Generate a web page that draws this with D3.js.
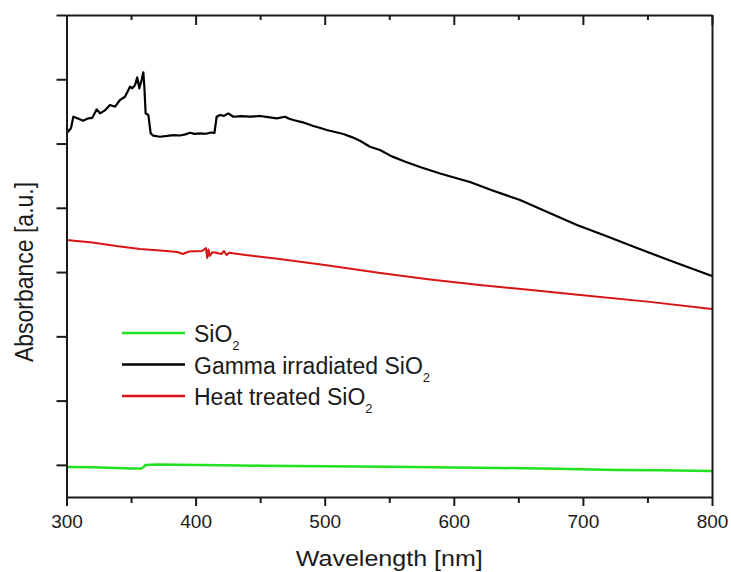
<!DOCTYPE html>
<html>
<head>
<meta charset="utf-8">
<script src="https://cdn.jsdelivr.net/npm/d3@7"></script>
<style>
  body { margin: 0; background: #fff; }
  text { font-family: "Liberation Sans", Arial, sans-serif; fill: #1a1a1a; }
</style>
</head>
<body>
<div id="chart"></div>
<script>
// wavelength [nm] / absorbance [a.u.]
var gammaNm  = [300.2, 301.4, 303.5, 305.3, 307.9, 313, 316.9, 320, 323.4, 326, 330, 333.7, 337.6, 341.4, 345.3, 349.2, 351, 353.1, 354.8, 356.4, 358.2, 359.5, 360.3, 361.3, 363.4, 365.2, 367.2, 372.4, 378, 382.7, 388, 392, 395.7, 399, 403.4, 408, 412, 414.6,
                416.3, 418.9, 422, 425.3, 429.2, 435, 442, 449.9, 456, 462.8, 469.3, 472, 475.7, 483, 491.2, 496, 501.6, 508, 514.4, 521, 527.3, 535.1, 542.8, 552, 562, 573.8, 590, 612.5, 630, 651.3, 672, 695.4, 718, 741.9, 770, 800];
var gammaAbs = [6.237, 6.184, 6.241, 6.417, 6.397, 6.355, 6.392, 6.40, 6.532, 6.47, 6.52, 6.599, 6.573, 6.677, 6.728, 6.884, 6.86, 6.911, 7.03, 6.859, 6.988, 7.108, 6.884, 6.47, 6.444, 6.159, 6.122, 6.106, 6.118, 6.132, 6.125, 6.142, 6.168, 6.15, 6.159, 6.152, 6.172, 6.165,
                6.417, 6.444, 6.43, 6.47, 6.417, 6.425, 6.418, 6.428, 6.41, 6.392, 6.417, 6.39, 6.366, 6.33, 6.273, 6.245, 6.21, 6.18, 6.148, 6.10, 6.044, 5.951, 5.899, 5.80, 5.72, 5.635, 5.53, 5.401, 5.27, 5.121, 4.94, 4.732, 4.56, 4.374, 4.16, 3.938];

var heatNm  = [300, 320, 340, 357, 375, 386, 390, 395, 405, 408, 409, 410, 411, 413, 415, 420, 422, 424, 426, 430, 445, 465, 500, 543, 580, 620, 660, 698, 750, 800];
var heatAbs = [4.499, 4.46, 4.40, 4.359, 4.33, 4.312, 4.281, 4.32, 4.328, 4.374, 4.219, 4.35, 4.25, 4.31, 4.304, 4.281, 4.328, 4.265, 4.30, 4.289, 4.25, 4.203, 4.110, 3.985, 3.89, 3.799, 3.72, 3.643, 3.54, 3.426];

var silicaNm  = [300, 320, 339, 350, 358, 360, 361, 370, 386, 420, 450, 500, 550, 600, 636, 680, 726, 760, 800];
var silicaAbs = [0.967, 0.962, 0.951, 0.945, 0.943, 0.97, 0.998, 1.004, 1.003, 0.995, 0.987, 0.978, 0.97, 0.96, 0.951, 0.94, 0.92, 0.915, 0.905];

var majorX = [300, 400, 500, 600, 700, 800];
var minorX = [350, 450, 550, 650, 750];
var ticksY = [1, 2, 3, 4, 5, 6, 7, 8];

var series = [
  {name: "SiO", sub: "2", color: "#22e022", nm: silicaNm, abs: silicaAbs, width: 2.5},
  {name: "Gamma irradiated SiO", sub: "2", color: "#000000", nm: gammaNm, abs: gammaAbs, width: 2.2},
  {name: "Heat treated SiO", sub: "2", color: "#d81414", nm: heatNm, abs: heatAbs, width: 2}
];

var width = 731, height = 572;
// plot box (window.top is read-only, so no "top" here)
var box = {x0: 66.5, x1: 712, y0: 15, y1: 497};

var svg = d3.select("#chart").append("svg")
    .attr("width", width)
    .attr("height", height);

var x = d3.scaleLinear().domain([300, 800]).range([box.x0, box.x1]);
var y = d3.scaleLinear().domain([0.5, 8]).range([box.y1, box.y0]);

var line = d3.line()
    .x(function (d) {return x(d[0]);})
    .y(function (d) {return y(d[1]);});

// curves first, frame drawn on top
series.forEach(function (s) {
  svg.append("path")
      .datum(d3.zip(s.nm, s.abs))
      .attr("fill", "none")
      .attr("stroke", s.color)
      .attr("stroke-width", s.width)
      .attr("stroke-linejoin", "round")
      .attr("d", line);
});

function style(g) {
  g.selectAll("path.domain").attr("stroke", "#1a1a1a").attr("stroke-width", 2);
  g.selectAll(".tick line").attr("stroke", "#1a1a1a").attr("stroke-width", 2);
}

// bottom axis, outward ticks with labels
var bottomAxis = svg.append("g")
    .attr("transform", "translate(0," + box.y1 + ")")
    .call(d3.axisBottom(x).tickValues(majorX).tickSize(9).tickSizeOuter(0).tickFormat(d3.format("d")))
    .call(style);
bottomAxis.selectAll(".tick text")
    .attr("y", 31).attr("dy", 0)
    .style("font-size", "19px")
    .style("fill", "#1a1a1a");

svg.append("g")
    .attr("transform", "translate(0," + box.y1 + ")")
    .call(d3.axisBottom(x).tickValues(minorX).tickSize(6).tickFormat(""))
    .call(function (g) {g.select(".domain").remove();})
    .call(style);

// top axis, inward ticks, no labels
svg.append("g")
    .attr("transform", "translate(0," + box.y0 + ")")
    .call(d3.axisBottom(x).tickValues(majorX).tickSize(10).tickSizeOuter(0).tickFormat(""))
    .call(style);
svg.append("g")
    .attr("transform", "translate(0," + box.y0 + ")")
    .call(d3.axisBottom(x).tickValues(minorX).tickSize(5).tickFormat(""))
    .call(function (g) {g.select(".domain").remove();})
    .call(style);

// left axis, outward ticks, no labels
svg.append("g")
    .attr("transform", "translate(" + box.x0 + ",0)")
    .call(d3.axisLeft(y).tickValues(ticksY).tickSize(10).tickSizeOuter(0).tickFormat(""))
    .call(style);

// right frame
svg.append("g")
    .attr("transform", "translate(" + box.x1 + ",0)")
    .call(d3.axisRight(y).tickValues([]).tickSizeOuter(0))
    .call(style);

// axis titles
svg.append("text")
    .attr("x", (box.x0 + box.x1) / 2)
    .attr("y", 566)
    .attr("text-anchor", "middle")
    .attr("textLength", 187)
    .attr("lengthAdjust", "spacingAndGlyphs")
    .style("font-size", "22px")
    .text("Wavelength [nm]");

svg.append("text")
    .attr("transform", "translate(33,272) scale(1.15,1) rotate(-90)")
    .attr("text-anchor", "middle")
    .style("font-size", "23px")
    .text("Absorbance [a.u.]");

// legend
var legend = svg.append("g").attr("transform", "translate(122,333)");
series.forEach(function (s, i) {
  var row = legend.append("g").attr("transform", "translate(0," + (i * 31.5) + ")");
  row.append("line")
      .attr("x1", 0).attr("x2", 63)
      .attr("stroke", s.color)
      .attr("stroke-width", 2.5);
  var t = row.append("text")
      .attr("x", 72)
      .attr("y", 9)
      .style("font-size", "23px");
  t.append("tspan").text(s.name);
  t.append("tspan")
      .attr("dy", 8)
      .style("font-size", "13px")
      .text(s.sub);
});
</script>
</body>
</html>
